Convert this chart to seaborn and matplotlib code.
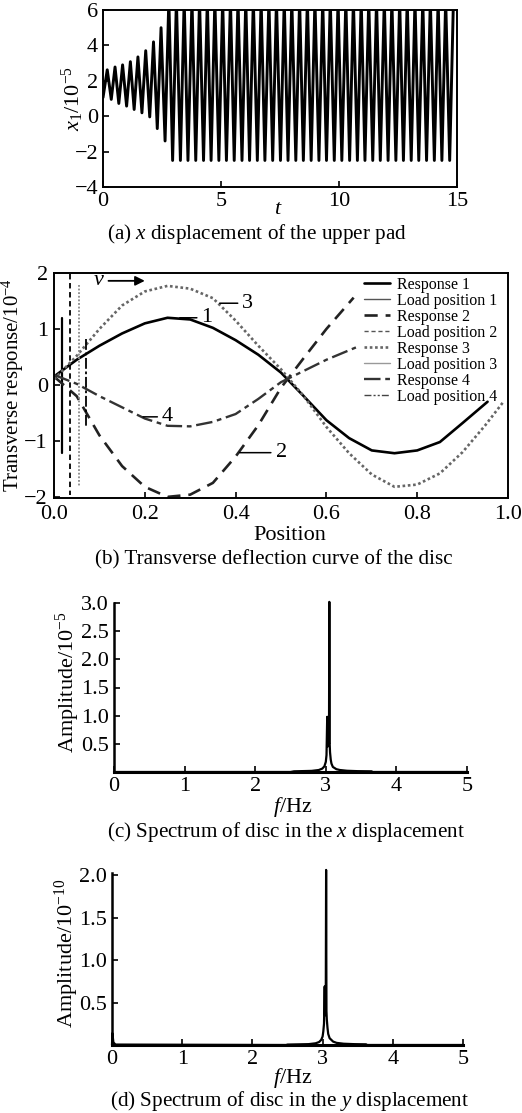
import numpy as np
import pandas as pd
import matplotlib
matplotlib.use("Agg")
import matplotlib.pyplot as plt
import seaborn as sns
from matplotlib.lines import Line2D

# ---------------- data ----------------
# (a) x displacement of the upper pad: extrema
t_start = [0.0]
x_start = [1.05]
t_peak = [0.18, 0.51, 0.83, 1.16, 1.48, 1.81, 2.14, 2.46, 2.79, 3.11, 3.44, 3.77,
          4.09, 4.42, 4.74, 5.07, 5.40, 5.72, 6.05, 6.37, 6.70, 7.03, 7.35, 7.68,
          8.00, 8.33, 8.66, 8.98, 9.31, 9.63, 9.96, 10.29, 10.61, 10.94, 11.26,
          11.59, 11.92, 12.24, 12.57, 12.89, 13.22, 13.55, 13.87, 14.20, 14.52, 14.85]
x_peak = [2.62, 2.78, 2.90, 3.08, 3.35, 3.70, 4.20, 5.00] + [6.6] * 38
t_trough = [0.35, 0.67, 1.00, 1.32, 1.65, 1.98, 2.30, 2.63, 2.95, 3.28, 3.60, 3.93,
            4.26, 4.58, 4.91, 5.23, 5.56, 5.89, 6.21, 6.54, 6.86, 7.19, 7.52, 7.84,
            8.17, 8.49, 8.82, 9.15, 9.47, 9.80, 10.12, 10.45, 10.78, 11.10, 11.43,
            11.75, 12.08, 12.41, 12.73, 13.06, 13.38, 13.71, 14.04, 14.36, 14.69]
x_trough = [0.95, 0.72, 0.57, 0.38, 0.19, -0.04, -0.70, -1.40] + [-2.5] * 37

# (b) transverse deflection curves
pos1 = [0.0, 0.05, 0.10, 0.15, 0.20, 0.25, 0.30, 0.35, 0.40, 0.45, 0.50, 0.55,
        0.60, 0.65, 0.70, 0.75, 0.80, 0.85, 0.90, 0.955]
resp1 = [0.15, 0.45, 0.70, 0.92, 1.10, 1.20, 1.17, 1.02, 0.80, 0.54, 0.22, -0.20,
         -0.63, -0.95, -1.17, -1.22, -1.17, -1.02, -0.68, -0.30]
pos2 = [0.0, 0.05, 0.10, 0.15, 0.20, 0.25, 0.30, 0.35, 0.40, 0.45, 0.50, 0.55, 0.60, 0.66]
resp2 = [0.15, -0.20, -0.90, -1.45, -1.82, -2.00, -1.96, -1.75, -1.28, -0.72, -0.05,
         0.48, 1.00, 1.56]
pos3 = [0.0, 0.05, 0.10, 0.15, 0.20, 0.25, 0.30, 0.35, 0.40, 0.45, 0.50, 0.55,
        0.60, 0.65, 0.70, 0.75, 0.80, 0.85, 0.90, 0.95, 0.99]
resp3 = [0.10, 0.52, 1.00, 1.42, 1.67, 1.77, 1.72, 1.55, 1.15, 0.70, 0.28, -0.20,
         -0.75, -1.22, -1.60, -1.82, -1.78, -1.58, -1.20, -0.72, -0.30]
pos4 = [0.0, 0.05, 0.10, 0.15, 0.20, 0.25, 0.30, 0.35, 0.40, 0.45, 0.50, 0.55, 0.60, 0.665]
resp4 = [0.18, 0.02, -0.20, -0.40, -0.60, -0.73, -0.74, -0.66, -0.52, -0.25, 0.05,
         0.25, 0.45, 0.67]
load_x = [0.018, 0.036, 0.054, 0.070]
load_top = [1.20, 1.98, 1.78, 0.82]
load_bottom = [-1.22, -1.97, -1.81, -0.75]

# (c) spectrum, x displacement
freq_c = [0.0, 2.50, 2.55, 2.80, 2.90, 2.95, 2.98, 3.00, 3.01, 3.02, 3.025, 3.03,
          3.04, 3.045, 3.05, 3.055, 3.06, 3.07, 3.08, 3.10, 3.15, 3.20, 3.30, 3.45,
          3.65, 3.66, 5.0]
amp_c = [0.0, 0.0, 0.012, 0.02, 0.035, 0.06, 0.10, 0.18, 0.30, 0.98, 0.45, 0.55,
         0.60, 0.50, 3.02, 0.50, 0.35, 0.22, 0.15, 0.09, 0.05, 0.035, 0.022, 0.015,
         0.012, 0.0, 0.0]
# (d) spectrum, y displacement
freq_d = [0.0, 0.005, 0.02, 0.05, 2.48, 2.50, 2.80, 2.90, 2.95, 2.98, 3.00, 3.01,
          3.02, 3.03, 3.035, 3.04, 3.045, 3.05, 3.055, 3.06, 3.07, 3.08, 3.10, 3.15,
          3.20, 3.30, 3.45, 3.62, 3.63, 5.0]
amp_d = [0.0, 0.14, 0.03, 0.005, 0.0, 0.005, 0.01, 0.02, 0.035, 0.06, 0.10, 0.16,
         0.25, 0.69, 0.35, 0.40, 0.45, 2.06, 0.40, 0.30, 0.20, 0.13, 0.08, 0.04,
         0.025, 0.015, 0.01, 0.008, 0.0, 0.0]

captions = ["(a) $x$ displacement of the upper pad",
            "(b) Transverse deflection curve of the disc",
            "(c) Spectrum of disc in the $x$ displacement",
            "(d) Spectrum of disc in the $y$ displacement"]

# ---------------- style ----------------
sns.set_theme(style="ticks")
plt.rcParams["font.family"] = ["Liberation Serif", "DejaVu Serif"]
plt.rcParams["mathtext.fontset"] = "custom"
plt.rcParams["mathtext.rm"] = "Liberation Serif"
plt.rcParams["mathtext.it"] = "Liberation Serif:italic"
plt.rcParams["text.color"] = "black"
plt.rcParams["axes.labelcolor"] = "black"
plt.rcParams["axes.edgecolor"] = "black"
plt.rcParams["xtick.color"] = "black"
plt.rcParams["ytick.color"] = "black"

W, H = 522, 1113
fig = plt.figure(figsize=(W / 100, H / 100), dpi=100)


def add_ax(l, t, r, b):
    return fig.add_axes([l / W, 1 - b / H, (r - l) / W, (b - t) / H])


TICK = 16
LAB = 16
CAP = 15.2


def style(ax, full=True):
    ax.tick_params(direction="in", length=4, width=1.2, labelsize=TICK, pad=3.5)
    for s in ax.spines.values():
        s.set_linewidth(1.4)
        s.set_color("black")
    if not full:
        ax.spines["top"].set_visible(False)
        ax.spines["right"].set_visible(False)


# ---- (a)
axA = add_ax(103, 10, 457, 187)
dfa = pd.DataFrame({"t": t_start + t_peak + t_trough,
                    "x": x_start + x_peak + x_trough}).sort_values("t")
sns.lineplot(data=dfa, x="t", y="x", ax=axA, color="black", lw=2.1,
             estimator=None, sort=False)
axA.set_xlim(0, 15)
axA.set_ylim(-4, 6)
axA.set_xticks([0, 5, 10, 15])
axA.set_yticks([-4, -2, 0, 2, 4, 6])
style(axA)
axA.set_xlabel("$t$", fontsize=LAB)
axA.set_ylabel("$x_1$/10$^{-5}$", fontsize=LAB)
axA.xaxis.set_label_coords(0.494, -0.128)
axA.xaxis.label.set_va("center")
axA.yaxis.set_label_coords(-0.085, 0.5)
axA.yaxis.label.set_va("center")

# ---- (b)
axB = add_ax(54, 273, 508, 498)
load_styles = [dict(color="black", lw=1.6, ls="-"),
               dict(color="black", lw=1.3, ls=(0, (3, 2))),
               dict(color="#8a8a8a", lw=1.3, ls=(0, (1, 1))),
               dict(color="black", lw=1.3, ls=(0, (6, 1.5, 1.5, 1.5)))]
resp_styles = [dict(color="black", lw=1.9, ls="-"),
               dict(color="#222222", lw=1.9, ls=(0, (5, 3))),
               dict(color="#666666", lw=1.9, ls=(0, (1, 1))),
               dict(color="#333333", lw=1.7, ls=(0, (7, 2, 2, 2)))]
legend_load_styles = [dict(color="#555555", lw=1.0, ls="-"),
                      dict(color="#555555", lw=1.0, ls=(0, (3, 2))),
                      dict(color="#999999", lw=1.0, ls="-"),
                      dict(color="#444444", lw=1.0, ls=(0, (5, 1.5, 1.5, 1.5, 1.5, 1.5)))]
resp_pos = [pos1, pos2, pos3, pos4]
resp_val = [resp1, resp2, resp3, resp4]
for i in range(4):
    sns.lineplot(x=resp_pos[i], y=resp_val[i], ax=axB, estimator=None, sort=False,
                 label=f"Response {i + 1}", **resp_styles[i])
    sns.lineplot(x=[load_x[i], load_x[i]], y=[load_top[i], load_bottom[i]], ax=axB,
                 estimator=None, sort=False, **load_styles[i])
axB.set_xlim(0, 1.0)
axB.set_ylim(-2.02, 2.0)
axB.set_xticks([0, 0.2, 0.4, 0.6, 0.8, 1.0])
axB.set_xticklabels(["0.0", "0.2", "0.4", "0.6", "0.8", "1.0"])
axB.set_yticks([-2, -1, 0, 1, 2])
style(axB)
axB.tick_params(axis="x", pad=5.0)
axB.tick_params(axis="y", pad=4.5)
axB.set_xlabel("Position", fontsize=LAB)
axB.set_ylabel("Transverse response/10$^{-4}$", fontsize=15)
axB.xaxis.set_label_coords(0.52, -0.168)
axB.xaxis.label.set_va("center")
axB.yaxis.set_label_coords(-0.09, 0.5)
axB.yaxis.label.set_va("center")

handles, labels = [], []
for i in range(4):
    handles.append(Line2D([], [], **resp_styles[i]))
    labels.append(f"Response {i + 1}")
    handles.append(Line2D([], [], **legend_load_styles[i]))
    labels.append(f"Load position {i + 1}")
leg = axB.legend(handles, labels, loc="upper left", bbox_to_anchor=(0.675, 1.0),
                 frameon=False, fontsize=11.5, labelspacing=0.0, handlelength=1.6,
                 handletextpad=0.45, borderpad=0.25, borderaxespad=0.0)

axB.annotate("", xy=(0.2, 1.86), xytext=(0.12, 1.86),
             arrowprops=dict(arrowstyle="-|>", color="black", lw=1.3,
                             mutation_scale=14, shrinkA=0, shrinkB=0))
axB.text(0.113, 1.86, "$v$", fontsize=LAB, ha="right", va="center")
curve_labels = [("1", (0.277, 1.20), (0.325, 1.20)),
                ("3", (0.365, 1.46), (0.415, 1.46)),
                ("4", (0.196, -0.57), (0.238, -0.57)),
                ("2", (0.409, -1.21), (0.488, -1.21))]
for txt, xy, xyt in curve_labels:
    axB.annotate(txt, xy=xy, xytext=xyt, fontsize=LAB, ha="left", va="center",
                 arrowprops=dict(arrowstyle="-", color="black", lw=1.1,
                                 shrinkA=1, shrinkB=0))

# ---- (c)
axC = add_ax(114, 603, 467, 772)
sns.lineplot(x=freq_c, y=amp_c, ax=axC, color="black", lw=1.6, estimator=None,
             sort=False)
axC.set_xlim(0, 5)
axC.set_ylim(0, 3.0)
axC.set_xticks([0, 1, 2, 3, 4, 5])
axC.set_yticks([0.5, 1.0, 1.5, 2.0, 2.5, 3.0])
axC.set_yticklabels(["0.5", "1.0", "1.5", "2.0", "2.5", "3.0"])
style(axC, full=False)
axC.spines["bottom"].set_linewidth(2.2)
axC.spines["left"].set_linewidth(1.8)
axC.set_xlabel("$f$/Hz", fontsize=LAB)
axC.set_ylabel("Amplitude/10$^{-5}$", fontsize=LAB)
axC.xaxis.set_label_coords(0.507, -0.207)
axC.xaxis.label.set_va("center")
axC.yaxis.set_label_coords(-0.13, 0.53)
axC.yaxis.label.set_va("center")
for l in axC.lines:
    l.set_clip_on(False)

# ---- (d)
axD = add_ax(112, 873, 463, 1045)
sns.lineplot(x=freq_d, y=amp_d, ax=axD, color="black", lw=1.6, estimator=None,
             sort=False)
axD.set_xlim(0, 5)
axD.set_ylim(0, 2.024)
axD.set_xticks([0, 1, 2, 3, 4, 5])
axD.set_yticks([0.5, 1.0, 1.5, 2.0])
axD.set_yticklabels(["0.5", "1.0", "1.5", "2.0"])
style(axD, full=False)
axD.spines["bottom"].set_linewidth(2.2)
axD.spines["left"].set_linewidth(1.8)
axD.set_xlabel("$f$/Hz", fontsize=LAB)
axD.set_ylabel("Amplitude/10$^{-10}$", fontsize=LAB)
axD.xaxis.set_label_coords(0.516, -0.194)
axD.xaxis.label.set_va("center")
axD.yaxis.set_label_coords(-0.128, 0.535)
axD.yaxis.label.set_va("center")
for l in axD.lines:
    l.set_clip_on(False)

# captions
cap_pos = [(257, 234), (274, 560), (286, 832), (290, 1101)]
for txt, (cx, cy) in zip(captions, cap_pos):
    fig.text(cx / W, 1 - cy / H, txt, fontsize=CAP, ha="center", va="center")

fig.savefig("out.png", dpi=100)
